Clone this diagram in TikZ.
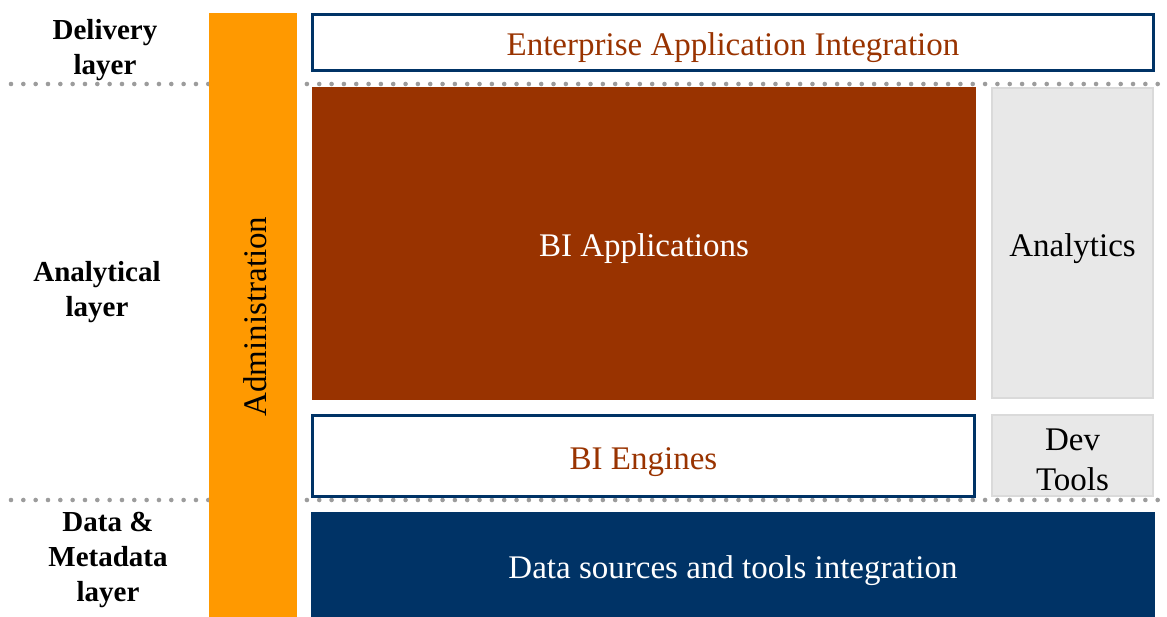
\documentclass[tikz,border=0pt]{standalone}
\usepackage{fontspec}
\setmainfont{Liberation Serif}
\definecolor{navy}{HTML}{003366}
\definecolor{rust}{HTML}{993300}
\definecolor{amber}{HTML}{FF9900}
\definecolor{panelgray}{HTML}{E8E8E8}
\definecolor{paneledge}{HTML}{DADADA}
\definecolor{dotgray}{HTML}{9C9C9C}
\tikzset{
  block/.style={rectangle, inner sep=0pt, outer sep=0pt, align=center,
    text height=27pt, text depth=0pt, font=\fontsize{33}{40}\selectfont},
  outlined/.style={block, draw=navy, line width=3pt, fill=white, text=rust},
  solid block/.style={block, fill=#1, text=white},
  side panel/.style={block, draw=paneledge, line width=2pt, fill=panelgray, text=black},
  panel text/.style={rectangle, inner sep=0pt, align=center, font=\fontsize{33}{40}\selectfont},
  layerlabel/.style={align=center, inner sep=0pt, font=\fontsize{29}{35}\bfseries\selectfont},
  divider/.style={draw=dotgray, line width=4.6pt, line cap=round, dash pattern=on 0pt off 12.33pt}
}
\begin{document}
\begin{tikzpicture}[x=1pt, y=-1pt]
\useasboundingbox (0,0) rectangle (1167,617);

% layer dividers
\coordinate (d1w) at (11,84);
\coordinate (d1e) at (1167,84);
\coordinate (d2w) at (11,500);
\coordinate (d2e) at (1167,500);
\draw[divider] (d1w) -- (d1e);
\draw[divider] (d2w) -- (d2e);

% layer names
\node[layerlabel] (delivery) at (105,50) {Delivery\\layer};
\node[layerlabel] (analytical) at (97,292) {Analytical\\layer};
\node[layerlabel] (datameta) at (108,560) {Data \&\\Metadata\\layer};

% administration column
\node[block, fill=amber, minimum width=88pt, minimum height=604pt] (admin) at (253,315) {};
\node[panel text, rotate=90, text=black] (admintext) at (255,316.5) {Administration};

% delivery layer
\node[outlined, minimum width=841pt, minimum height=56pt] (eai) at (733,42.5)
  {Enterprise Application Integration};

% analytical layer
\node[solid block=rust, minimum width=664pt, minimum height=313pt] (biapps) at (644,243.5)
  {BI Applications};
\node[side panel, minimum width=161pt, minimum height=310pt] (analytics) at (1072.5,243)
  {Analytics};
\node[outlined, minimum width=662pt, minimum height=81pt] (biengines) at (643.5,456)
  {BI Engines};
\node[side panel, minimum width=161pt, minimum height=81pt] (devtools) at (1072.5,455.5) {};
\node[panel text] (devtoolstext) at ([yshift=-4pt]devtools.center) {Dev\\Tools};

% data & metadata layer
\node[solid block=navy, minimum width=844pt, minimum height=105pt] (datasrc) at (733,564.5)
  {Data sources and tools integration};
\end{tikzpicture}
\end{document}
